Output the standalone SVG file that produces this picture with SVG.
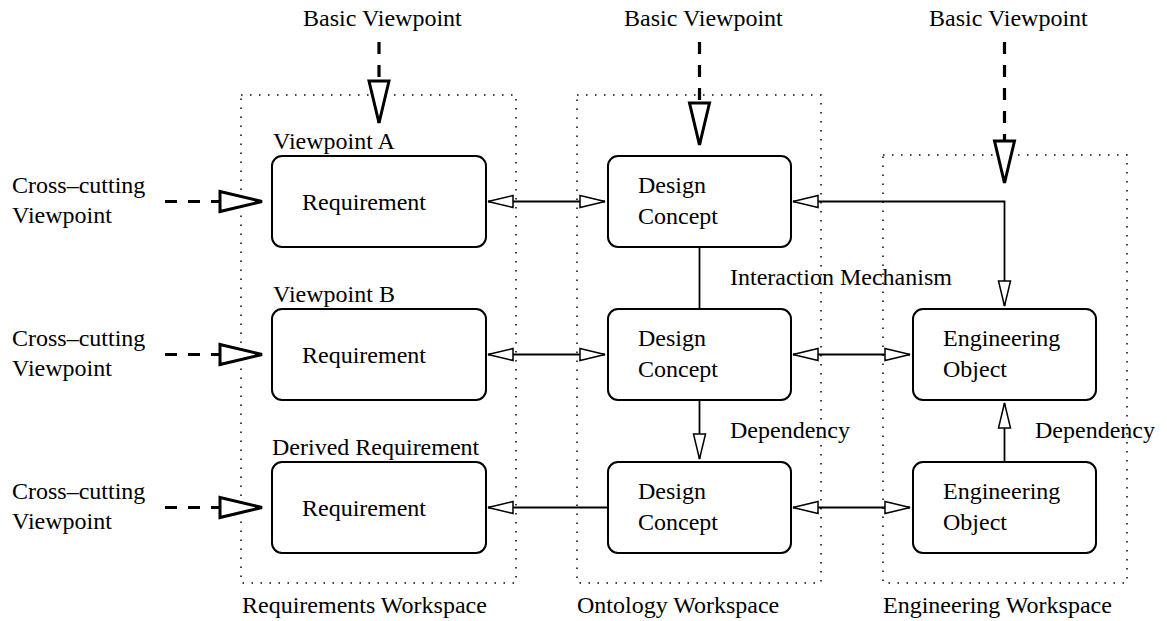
<svg xmlns="http://www.w3.org/2000/svg" width="1167" height="621" viewBox="0 0 1167 621">
<style>
text{font-family:"Liberation Serif","Times New Roman",serif;font-size:24px;fill:#000}
.ws{fill:none;stroke:#000;stroke-width:1.5;stroke-dasharray:1.5 7.5}
.box{fill:#fff;stroke:#000;stroke-width:2}
.ln{fill:none;stroke:#000;stroke-width:1.8}
.vp{fill:none;stroke:#000;stroke-width:3.2;stroke-dasharray:12 11}
</style>
<defs>
<marker id="sm" markerUnits="userSpaceOnUse" viewBox="0 0 25 12" refX="25" refY="6" markerWidth="25" markerHeight="12" orient="auto-start-reverse" overflow="visible">
<path d="M0,0 L25,6 L0,12 Z" fill="#fff" stroke="#000" stroke-width="1.5" stroke-dasharray="none"/>
</marker>
<marker id="big" markerUnits="userSpaceOnUse" viewBox="0 0 42 20" refX="42" refY="10" markerWidth="42" markerHeight="20" orient="auto" overflow="visible">
<path d="M0,0 L42,10 L0,20 Z" fill="#fff" stroke="#000" stroke-width="3" stroke-linejoin="miter" stroke-dasharray="none"/>
</marker>
</defs>

<g id="workspaces">
<g id="ws-requirements"><rect class="ws" x="241" y="95" width="275" height="488"/><text x="242" y="613">Requirements Workspace</text></g>
<g id="ws-ontology"><rect class="ws" x="577" y="95" width="244" height="488"/><text x="577" y="613">Ontology Workspace</text></g>
<g id="ws-engineering"><rect class="ws" x="883" y="155" width="244" height="428"/><text x="883" y="613">Engineering Workspace</text></g>
</g>

<g id="connectors">
<line class="vp" x1="379" y1="42" x2="379" y2="123" marker-end="url(#big)"/>
<line class="vp" x1="699.5" y1="42" x2="699.5" y2="145" marker-end="url(#big)"/>
<line class="vp" x1="1004.5" y1="42" x2="1004.5" y2="183" marker-end="url(#big)"/>
<line class="vp" x1="165" y1="201.5" x2="262" y2="201.5" marker-end="url(#big)"/>
<line class="vp" x1="165" y1="354.5" x2="262" y2="354.5" marker-end="url(#big)"/>
<line class="vp" x1="165" y1="507.5" x2="262" y2="507.5" marker-end="url(#big)"/>

<line class="ln" x1="488" y1="201.5" x2="605" y2="201.5" marker-start="url(#sm)" marker-end="url(#sm)"/>
<line class="ln" x1="488" y1="354.5" x2="605" y2="354.5" marker-start="url(#sm)" marker-end="url(#sm)"/>
<line class="ln" x1="488" y1="507.5" x2="608" y2="507.5" marker-start="url(#sm)"/>
<path class="ln" d="M793,201.5 H1004.5 V306" marker-start="url(#sm)" marker-end="url(#sm)"/>
<line class="ln" x1="699.5" y1="247" x2="699.5" y2="309"/>
<line class="ln" x1="793" y1="354.5" x2="910" y2="354.5" marker-start="url(#sm)" marker-end="url(#sm)"/>
<line class="ln" x1="793" y1="507.5" x2="910" y2="507.5" marker-start="url(#sm)" marker-end="url(#sm)"/>
<line class="ln" x1="699.5" y1="400" x2="699.5" y2="459" marker-end="url(#sm)"/>
<line class="ln" x1="1004.5" y1="462" x2="1004.5" y2="403" marker-end="url(#sm)"/>
<text x="730" y="285">Interaction Mechanism</text>
<text x="730" y="438">Dependency</text>
<text x="1035" y="438">Dependency</text>
</g>

<g id="basic-vp-1"><text x="303" y="26">Basic Viewpoint</text></g>
<g id="basic-vp-2"><text x="624" y="26">Basic Viewpoint</text></g>
<g id="basic-vp-3"><text x="929" y="26">Basic Viewpoint</text></g>

<g id="cross-vp-1"><text x="12" y="193">Cross–cutting</text><text x="12" y="223">Viewpoint</text></g>
<g id="cross-vp-2"><text x="12" y="346">Cross–cutting</text><text x="12" y="376">Viewpoint</text></g>
<g id="cross-vp-3"><text x="12" y="499">Cross–cutting</text><text x="12" y="529">Viewpoint</text></g>

<g id="req-a"><text x="273" y="149">Viewpoint A</text><rect class="box" x="272" y="156" width="214" height="91" rx="10"/><text x="302" y="210">Requirement</text></g>
<g id="req-b"><text x="273" y="302">Viewpoint B</text><rect class="box" x="272" y="309" width="214" height="91" rx="10"/><text x="302" y="363">Requirement</text></g>
<g id="req-derived"><text x="272" y="455">Derived Requirement</text><rect class="box" x="272" y="462" width="214" height="91" rx="10"/><text x="302" y="516">Requirement</text></g>

<g id="dc-1"><rect class="box" x="608" y="156" width="183" height="91" rx="10"/><text x="638" y="193">Design</text><text x="638" y="224">Concept</text></g>
<g id="dc-2"><rect class="box" x="608" y="309" width="183" height="91" rx="10"/><text x="638" y="346">Design</text><text x="638" y="377">Concept</text></g>
<g id="dc-3"><rect class="box" x="608" y="462" width="183" height="91" rx="10"/><text x="638" y="499">Design</text><text x="638" y="530">Concept</text></g>

<g id="eo-1"><rect class="box" x="913" y="309" width="183" height="91" rx="10"/><text x="943" y="346">Engineering</text><text x="943" y="377">Object</text></g>
<g id="eo-2"><rect class="box" x="913" y="462" width="183" height="91" rx="10"/><text x="943" y="499">Engineering</text><text x="943" y="530">Object</text></g>
</svg>
